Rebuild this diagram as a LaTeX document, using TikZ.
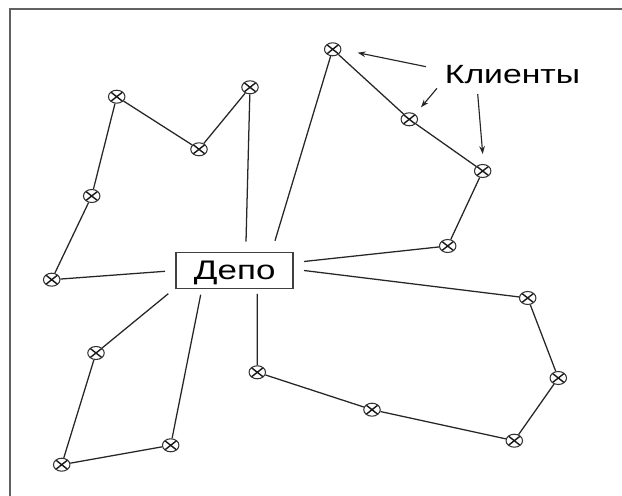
\documentclass[tikz,border=0pt]{standalone}
\usepackage{fontspec}
\usepackage{graphicx}
\setmainfont{Liberation Sans}
\usetikzlibrary{arrows.meta,shapes.geometric}
\begin{document}
\begin{tikzpicture}[x=0.02cm,y=-0.02cm,
  client/.style={ellipse, draw=black!80, line width=0.6pt,
    minimum width=0.33cm, minimum height=0.26cm, inner sep=0pt, fill=white,
    path picture={\draw[line width=0.8pt, black!90]
      (path picture bounding box.north west) -- (path picture bounding box.south east)
      (path picture bounding box.south west) -- (path picture bounding box.north east);}},
  route/.style={draw=black!85, line width=0.72pt},
  callout/.style={draw=black!85, line width=0.65pt, -{Stealth[length=4.5pt,width=3.2pt]}},
  depotbox/.style={draw=black!75, line width=0.9pt, minimum width=2.34cm,
    minimum height=0.72cm, inner sep=0pt, text height=10.5pt, text depth=0pt,
    font=\fontsize{15.3}{18}\selectfont},
  labeltext/.style={font=\fontsize{15}{18}\selectfont, inner sep=0pt, anchor=base}]

\useasboundingbox (0,0) rectangle (622,496);
\fill[white] (0,0) rectangle (622,496);
% frame (top and left edges only)
\draw[black!62, line width=1.1pt] (622,9) -- (10,9) -- (10,496);

% depot
\node[depotbox] (depot) at (234.7,270.7) {\scalebox{1.3}[1]{Депо}};

% loose ends of the routes near the depot
\coordinate (eL1) at (246,241.7);
\coordinate (eT1) at (275,240.7);
\coordinate (eT4) at (304,261.5);
\coordinate (eR1) at (304,270.5);
\coordinate (eL5) at (165,271.3);
\coordinate (eB1) at (168.3,293.7);
\coordinate (eB3) at (200.7,294.7);
\coordinate (eR5) at (257.3,294);

% clients
\node[client] (L1) at (250,87.3) {};
\node[client] (L2) at (199,149.3) {};
\node[client] (L3) at (116.7,96.7) {};
\node[client] (L4) at (91.7,196) {};
\node[client] (L5) at (51.7,279.7) {};
\node[client] (T1) at (332.7,49.3) {};
\node[client] (T2) at (409.3,119.3) {};
\node[client] (T3) at (482.7,171) {};
\node[client] (T4) at (447.7,246) {};
\node[client] (R1) at (527.7,298) {};
\node[client] (R2) at (558.3,378) {};
\node[client] (R3) at (514.3,440.7) {};
\node[client] (R4) at (372,409.7) {};
\node[client] (R5) at (257.3,372.3) {};
\node[client] (B1) at (96,353) {};
\node[client] (B2) at (61.7,464.7) {};
\node[client] (B3) at (170.7,445.3) {};

% routes
\draw[route] (eL5) -- (L5) -- (L4) -- (L3) -- (L2) -- (L1) -- (eL1);
\draw[route] (eT1) -- (T1) -- (T2) -- (T3) -- (T4) -- (eT4);
\draw[route] (eR1) -- (R1) -- (R2) -- (R3) -- (R4) -- (R5) -- (eR5);
\draw[route] (eB1) -- (B1) -- (B2) -- (B3) -- (eB3);

% label with pointers
\node[labeltext] (clients) at (512.5,84) {\scalebox{1.28}[1]{Клиенты}};
\coordinate (p1s) at (426,66.7);  \coordinate (p1e) at (357.7,52.7);
\coordinate (p2s) at (437,88.3);  \coordinate (p2e) at (421,107.3);
\coordinate (p3s) at (477.7,94);  \coordinate (p3e) at (482.7,154);
\draw[callout] (p1s) -- (p1e);
\draw[callout] (p2s) -- (p2e);
\draw[callout] (p3s) -- (p3e);
\end{tikzpicture}
\end{document}
